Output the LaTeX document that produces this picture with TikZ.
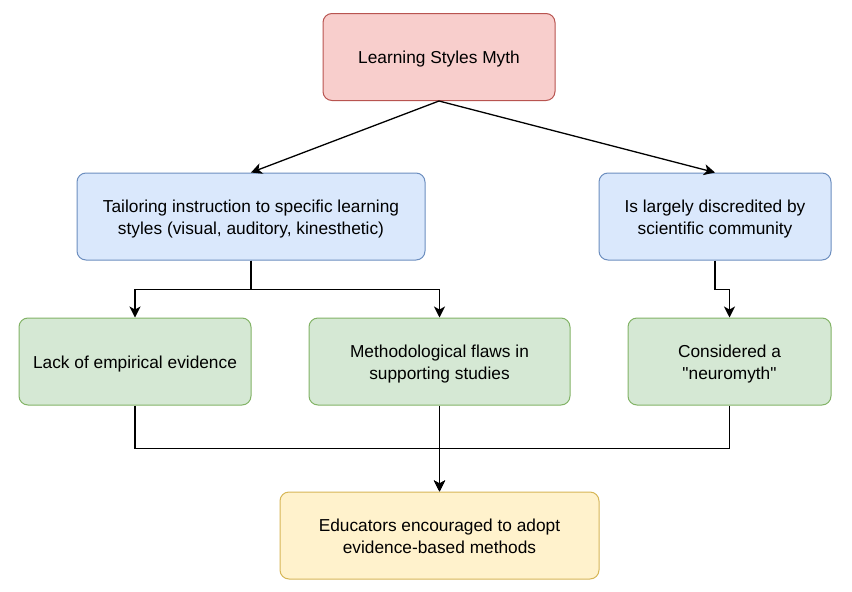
\documentclass[tikz,border=0pt]{standalone}
\usepackage{fontspec}
\setmainfont{Liberation Sans}
\usetikzlibrary{arrows.meta}
\definecolor{mythfill}{HTML}{F8CECC}
\definecolor{mythline}{HTML}{B85450}
\definecolor{claimfill}{HTML}{DAE8FC}
\definecolor{claimline}{HTML}{6C8EBF}
\definecolor{flawfill}{HTML}{D5E8D4}
\definecolor{flawline}{HTML}{82B366}
\definecolor{advfill}{HTML}{FFF2CC}
\definecolor{advline}{HTML}{D6B656}
\begin{document}
\begin{tikzpicture}[x=1pt,y=-1pt,
  box/.style={draw,rounded corners=9pt,line width=1pt,align=center,
    minimum height=87pt,inner sep=0pt,font=\fontsize{17.3}{22}\selectfont,
    text height=18pt,text depth=4.5pt},
  twoline/.style={text height=40pt},
  mythbox/.style={box,fill=mythfill,draw=mythline},
  claimbox/.style={box,fill=claimfill,draw=claimline},
  flawbox/.style={box,fill=flawfill,draw=flawline},
  advbox/.style={box,fill=advfill,draw=advline},
  arr/.style={-{Stealth[length=11pt,width=11pt,inset=3pt]},line width=1.3pt}]
\useasboundingbox (0,0) rectangle (852,592);
% top
\node[mythbox,minimum width=232pt] (myth) at (439,57) {Learning Styles Myth};
% second row
\node[claimbox,twoline,minimum width=348pt] (tailor) at (251,216.5) {Tailoring instruction to specific learning\\styles (visual, auditory, kinesthetic)};
\node[claimbox,twoline,minimum width=232pt] (discr) at (715,216.5) {Is largely discredited by\\scientific community};
% third row
\node[flawbox,minimum width=232pt] (lack) at (135,361.5) {Lack of empirical evidence};
\node[flawbox,twoline,minimum width=261pt] (method) at (439.5,361.5) {Methodological flaws in\\supporting studies};
\node[flawbox,twoline,minimum width=203pt] (neuro) at (729.5,361.5) {Considered a\\\textquotedbl neuromyth\textquotedbl};
% bottom
\node[advbox,twoline,minimum width=319pt] (adopt) at (439.5,535.5) {Educators encouraged to adopt\\evidence-based methods};
\draw[arr] (myth.south) -- (tailor.north);
\draw[arr] (myth.south) -- (discr.north);
\draw[arr] (tailor.south) -- ++(0,29) -| (lack.north);
\draw[arr] (tailor.south) -- ++(0,29) -| (method.north);
\draw[arr] (discr.south) -- ++(0,29) -| (neuro.north);
\draw[arr] (lack.south) -- ++(0,43) -| (adopt.north);
\draw[arr] (method.south) -- (adopt.north);
\draw[arr] (neuro.south) -- ++(0,43) -| (adopt.north);
\end{tikzpicture}
\end{document}
